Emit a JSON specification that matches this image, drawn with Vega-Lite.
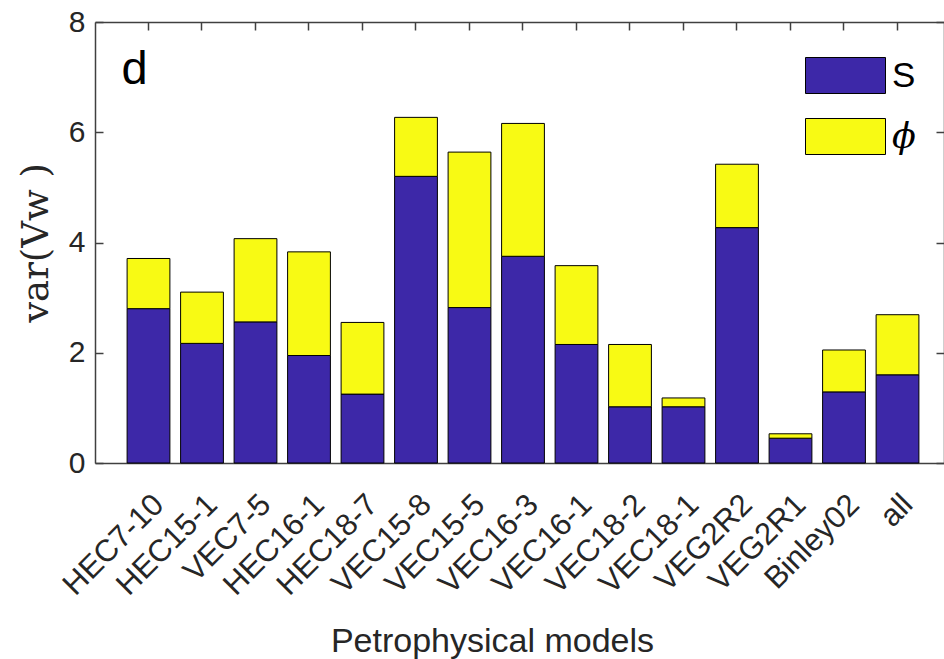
{
  "$schema": "https://vega.github.io/schema/vega-lite/v6.json",
  "autosize": {"type": "none"},
  "padding": {"left": 95, "top": 22, "right": 0, "bottom": 196},
  "width": 849,
  "height": 441,
  "background": "white",
  "config": {"view": {"stroke": null}, "font": "Liberation Sans"},
  "datasets": {
    "bars": [
      {"model": "HEC7-10", "comp": "S", "ord": 1, "value": 2.80},
      {"model": "HEC7-10", "comp": "ϕ", "ord": 2, "value": 0.91},
      {"model": "HEC15-1", "comp": "S", "ord": 1, "value": 2.17},
      {"model": "HEC15-1", "comp": "ϕ", "ord": 2, "value": 0.93},
      {"model": "VEC7-5", "comp": "S", "ord": 1, "value": 2.56},
      {"model": "VEC7-5", "comp": "ϕ", "ord": 2, "value": 1.51},
      {"model": "HEC16-1", "comp": "S", "ord": 1, "value": 1.95},
      {"model": "HEC16-1", "comp": "ϕ", "ord": 2, "value": 1.88},
      {"model": "HEC18-7", "comp": "S", "ord": 1, "value": 1.25},
      {"model": "HEC18-7", "comp": "ϕ", "ord": 2, "value": 1.30},
      {"model": "VEC15-8", "comp": "S", "ord": 1, "value": 5.20},
      {"model": "VEC15-8", "comp": "ϕ", "ord": 2, "value": 1.07},
      {"model": "VEC15-5", "comp": "S", "ord": 1, "value": 2.82},
      {"model": "VEC15-5", "comp": "ϕ", "ord": 2, "value": 2.82},
      {"model": "VEC16-3", "comp": "S", "ord": 1, "value": 3.75},
      {"model": "VEC16-3", "comp": "ϕ", "ord": 2, "value": 2.41},
      {"model": "VEC16-1", "comp": "S", "ord": 1, "value": 2.15},
      {"model": "VEC16-1", "comp": "ϕ", "ord": 2, "value": 1.43},
      {"model": "VEC18-2", "comp": "S", "ord": 1, "value": 1.02},
      {"model": "VEC18-2", "comp": "ϕ", "ord": 2, "value": 1.13},
      {"model": "VEC18-1", "comp": "S", "ord": 1, "value": 1.02},
      {"model": "VEC18-1", "comp": "ϕ", "ord": 2, "value": 0.16},
      {"model": "VEG2R2", "comp": "S", "ord": 1, "value": 4.27},
      {"model": "VEG2R2", "comp": "ϕ", "ord": 2, "value": 1.15},
      {"model": "VEG2R1", "comp": "S", "ord": 1, "value": 0.45},
      {"model": "VEG2R1", "comp": "ϕ", "ord": 2, "value": 0.08},
      {"model": "Binley02", "comp": "S", "ord": 1, "value": 1.29},
      {"model": "Binley02", "comp": "ϕ", "ord": 2, "value": 0.76},
      {"model": "all", "comp": "S", "ord": 1, "value": 1.60},
      {"model": "all", "comp": "ϕ", "ord": 2, "value": 1.09}
    ],
    "label": [{"model": "HEC7-10", "y": 6.88, "text": "d"}]
  },
  "layer": [
    {
      "data": {"name": "bars"},
      "mark": {"type": "bar", "stroke": "black", "strokeWidth": 1},
      "encoding": {
        "x": {
          "field": "model", "type": "nominal", "sort": null,
          "scale": {
            "domain": ["HEC7-10", "HEC15-1", "VEC7-5", "HEC16-1", "HEC18-7", "VEC15-8", "VEC15-5", "VEC16-3", "VEC16-1", "VEC18-2", "VEC18-1", "VEG2R2", "VEG2R1", "Binley02", "all"],
            "range": [0, 856], "paddingInner": 0.2, "paddingOuter": 0.6
          },
          "axis": {
            "orient": "bottom", "title": "Petrophysical models",
            "titleFontSize": 34, "titleFontWeight": "normal", "titleColor": "#262626",
            "titlePadding": 24, "titleX": 397,
            "labelAngle": -45, "labelAlign": "right", "labelBaseline": "top",
            "labelFontSize": 31, "labelColor": "#262626", "labelPadding": 34,
            "tickSize": -8, "tickColor": "#404040", "tickWidth": 1.5,
            "domainColor": "#404040", "domainWidth": 1.5
          }
        },
        "y": {
          "field": "value", "type": "quantitative", "stack": "zero",
          "scale": {"domain": [0, 8], "nice": false},
          "axis": {
            "orient": "left", "title": "var(Vw )", "titleFont": "DejaVu Serif",
            "titleFontSize": 37, "titleFontWeight": "normal", "titleColor": "#262626",
            "titlePadding": 13,
            "values": [0, 2, 4, 6, 8], "grid": false,
            "labelFontSize": 30, "labelColor": "#262626", "labelPadding": 18,
            "tickSize": -8, "tickColor": "#404040", "tickWidth": 1.5,
            "domainColor": "#404040", "domainWidth": 1.5
          }
        },
        "fill": {
          "field": "comp", "type": "nominal", "sort": ["S", "ϕ"],
          "scale": {"domain": ["S", "ϕ"], "range": ["#3D28A8", "#F8FA14"]},
          "legend": {
            "orient": "none", "legendX": 710, "legendY": 13, "title": null,
            "symbolType": "M-1,-0.45H1V0.45H-1Z", "symbolSize": 6400,
            "symbolStrokeColor": "black", "symbolStrokeWidth": 1, "symbolOpacity": 1,
            "labelFontSize": 35, "labelColor": "black", "labelOffset": 6,
            "rowPadding": -34, "padding": 0,
            "encode": {
              "labels": {
                "update": {
                  "font": {"signal": "datum.label === 'ϕ' ? 'DejaVu Serif' : 'Liberation Sans'"},
                  "fontStyle": {"signal": "datum.label === 'ϕ' ? 'italic' : 'normal'"}
                }
              }
            }
          }
        },
        "order": {"field": "ord", "type": "quantitative"}
      }
    },
    {
      "data": {"name": "label"},
      "mark": {"type": "text", "fontSize": 47, "color": "black", "align": "center", "baseline": "alphabetic", "dx": -14},
      "encoding": {
        "x": {
          "field": "model", "type": "nominal",
          "axis": {"orient": "top", "title": null, "labels": false, "tickSize": -8, "tickColor": "#404040", "tickWidth": 1.5, "domainColor": "#404040", "domainWidth": 1.5}
        },
        "y": {
          "field": "y", "type": "quantitative",
          "axis": {"orient": "right", "title": null, "labels": false, "values": [0, 2, 4, 6, 8], "grid": false, "tickSize": -8, "tickColor": "#404040", "tickWidth": 1.5, "domainColor": "#404040", "domainWidth": 1.5}
        },
        "text": {"field": "text"}
      }
    }
  ],
  "resolve": {"axis": {"x": "independent", "y": "independent"}}
}
